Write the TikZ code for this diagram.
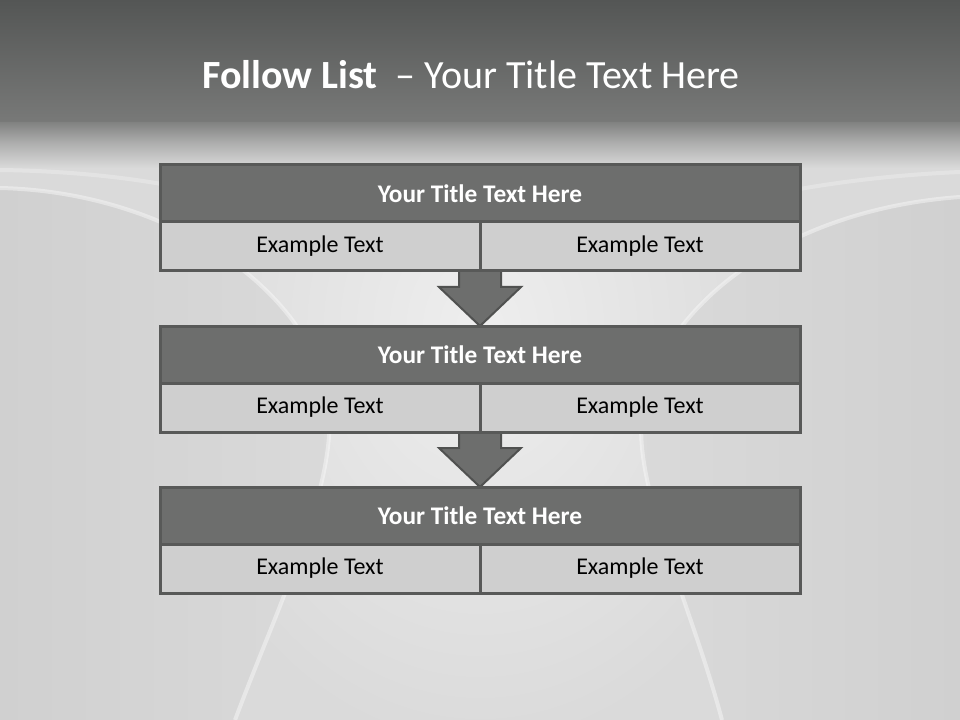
\documentclass[tikz,border=0pt]{standalone}
\usepackage{fontspec}
\setmainfont{Carlito}
\usetikzlibrary{calc, positioning}
\definecolor{my_darkgray}{RGB}{109, 110, 109}
\definecolor{my_lightgray}{RGB}{207, 207, 207}
\definecolor{my_border}{RGB}{88, 89, 88}
\definecolor{my_arrowline}{RGB}{80, 81, 80}
\definecolor{my_bandtop}{RGB}{84, 86, 85}
\definecolor{my_bandbottom}{RGB}{120, 121, 120}
\definecolor{my_bgmid}{RGB}{218, 218, 218}
\definecolor{my_bgdark}{RGB}{208, 208, 208}
\definecolor{my_bglight}{RGB}{238, 238, 238}
\tikzset {
  titlebox/.style = {draw=my_border, line width=2.25pt, fill=my_darkgray, text=white, minimum width=480pt, minimum height=42.75pt, inner sep=0pt, font=\fontsize{19}{23}\selectfont\bfseries},
  subbox/.style = {draw=my_border, line width=2.25pt, fill=my_lightgray, text=black, minimum width=240pt, minimum height=36.75pt, inner sep=0pt, font=\fontsize{18}{22}\selectfont},
  downarrow/.style = {draw=my_arrowline, line width=1.5pt, fill=my_darkgray, line join=miter},
  heading/.style = {text=white, inner sep=0pt, font=\fontsize{30}{36}\selectfont},
  swoosh/.style = {draw=white, line width=3pt, opacity=0.4}
}
\pgfdeclarelayer{background}
\pgfdeclarelayer{middle}
\pgfsetlayers{background,middle,main}

\begin{document}
\begin{tikzpicture}[x=0.75pt, y=-0.75pt, outer sep=0pt, node distance=41.25pt]

    \useasboundingbox (0,0) rectangle (960,720);

    \node[heading] (heading) at (471,75) {\textbf{Follow List\ \ }– Your Title Text Here};

    \node[titlebox] (t1) at (480,193.5) {Your Title Text Here};
    \node[subbox, below right = 0pt and 0pt of t1.south west] (e1a) {Example Text};
    \node[subbox, right = 0pt of e1a] (e1b) {Example Text};

    \node[titlebox, below = of e1a.south east, anchor=north] (t2) {Your Title Text Here};
    \node[subbox, below right = 0pt and 0pt of t2.south west] (e2a) {Example Text};
    \node[subbox, right = 0pt of e2a] (e2b) {Example Text};

    \node[titlebox, below = of e2a.south east, anchor=north] (t3) {Your Title Text Here};
    \node[subbox, below right = 0pt and 0pt of t3.south west] (e3a) {Example Text};
    \node[subbox, right = 0pt of e3a] (e3b) {Example Text};

    % slide background
    \begin{pgfonlayer}{background}
      \fill[my_bgmid] (0,120) rectangle (960,720);
      \begin{scope}
        \clip (0,188) .. controls (170,192) and (310,290) .. (328,400) .. controls (340,480) and (280,600) .. (235,720) -- (722,720) .. controls (690,600) and (630,480) .. (643,410) .. controls (660,310) and (780,210) .. (960,197) -- (960,120) -- (0,120) -- cycle;
        \shade[inner color=my_bglight, outer color=my_bgmid] (480,330) ellipse (330 and 420);
      \end{scope}
      \shade[left color=my_bgdark, right color=my_bgmid] (0,188) .. controls (170,192) and (310,290) .. (328,400) .. controls (340,480) and (280,600) .. (235,720) -- (0,720) -- cycle;
      \shade[right color=my_bgdark, left color=my_bgmid] (960,197) .. controls (780,210) and (660,310) .. (643,410) .. controls (630,480) and (690,600) .. (722,720) -- (960,720) -- cycle;
      \shade[top color=my_bandbottom, bottom color=my_bgmid, middle color=my_bgmid!55!my_bandbottom] (0,118) rectangle (960,168);
      \shade[top color=my_bandtop, bottom color=my_bandbottom] (0,0) rectangle (960,122);
      \draw[swoosh] (0,188) .. controls (170,192) and (310,290) .. (328,400) .. controls (340,480) and (280,600) .. (235,720);
      \draw[swoosh] (960,197) .. controls (780,210) and (660,310) .. (643,410) .. controls (630,480) and (690,600) .. (722,720);
      \draw[swoosh, opacity=0.25] (0,170) .. controls (150,172) and (260,200) .. (340,240);
      \draw[swoosh, opacity=0.25] (960,172) .. controls (820,178) and (700,205) .. (620,240);
    \end{pgfonlayer}

    % arrows between the boxes
    \begin{pgfonlayer}{middle}
      \coordinate (j1) at (e1a.south east);
      \coordinate (j2) at (e2a.south east);
      \draw[downarrow] ($(j1)+(-21,0)$) -- ($(j1)+(-21,16)$) -- ($(j1)+(-41,16)$) -- (t2.north) -- ($(j1)+(41,16)$) -- ($(j1)+(21,16)$) -- ($(j1)+(21,0)$);
      \draw[downarrow] ($(j2)+(-21,0)$) -- ($(j2)+(-21,16)$) -- ($(j2)+(-41,16)$) -- (t3.north) -- ($(j2)+(41,16)$) -- ($(j2)+(21,16)$) -- ($(j2)+(21,0)$);
    \end{pgfonlayer}

\end{tikzpicture}
\end{document}
